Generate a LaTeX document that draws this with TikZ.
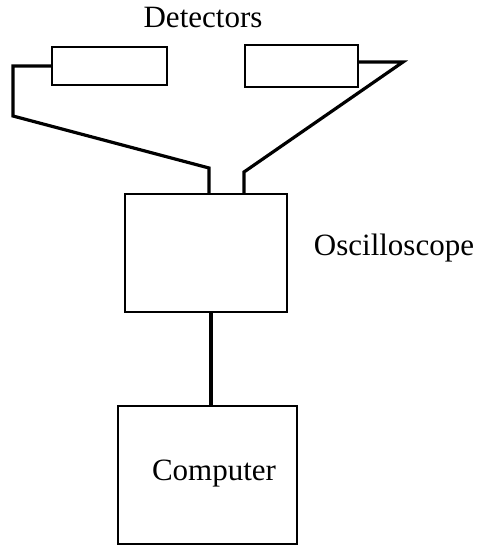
\documentclass[tikz,border=0pt]{standalone}
\usepackage{fontspec}
\setmainfont{Liberation Serif}
\begin{document}
\begin{tikzpicture}[x=1pt,y=-1pt,
  box/.style={draw, line width=1.2pt, rectangle, inner sep=0pt, anchor=center},
  wire/.style={draw, line width=3.2pt, line join=miter},
  lbl/.style={font=\fontsize{31}{36}\selectfont, inner sep=0pt, anchor=center}]
\useasboundingbox (0,0) rectangle (480,545);
% boxes
\node[box, minimum width=115pt, minimum height=38pt] (ld) at (109.5,66) {};
\node[box, minimum width=113pt, minimum height=42pt] (rd) at (301.5,66) {};
\node[box, minimum width=162pt, minimum height=118pt] (osc) at (206,253) {};
\node[box, minimum width=179pt, minimum height=138pt] (comp) at (207.5,475) {};
% labels
\node[lbl] (detlbl) at (203,18) {Detectors};
\node[lbl] (osclbl) at (394,248) {Oscilloscope};
\node[lbl] (complbl) at (214,474) {Computer};
% wire coordinates
\coordinate (l1) at (13,66);
\coordinate (l2) at (13,116);
\coordinate (l3) at (209,168);
\coordinate (r0) at (358,62);
\coordinate (r1) at (403,62);
\coordinate (r2) at (244,172);
% wires
\draw[wire] (ld.west) -- (l1) -- (l2) -- (l3) -- (l3 |- osc.north);
\draw[wire] (r0) -- (r1) -- (r2) -- (r2 |- osc.north);
\draw[wire] (osc.south -| 211,0) -- (comp.north -| 211,0);
\end{tikzpicture}
\end{document}
